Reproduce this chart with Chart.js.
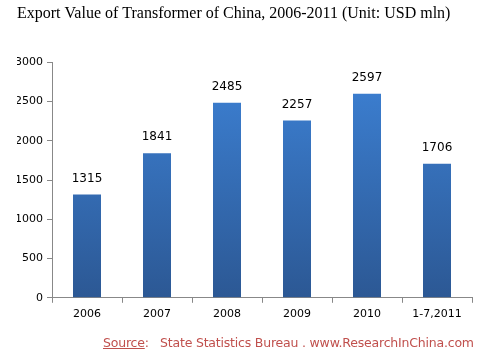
<!DOCTYPE html>
<html>
<head>
<meta charset="utf-8">
<script src="https://cdn.jsdelivr.net/npm/chart.js@4"></script>
<style>
  html, body { margin: 0; padding: 0; background: #fff; }
  #wrap { position: relative; width: 486px; height: 361px; }
  #source {
    position: absolute; left: 103px; top: 335px;
    font-family: "DejaVu Sans", sans-serif; font-size: 12.5px; color: #c0504d;
    white-space: nowrap; letter-spacing: -0.2px;
  }
  #source u { text-decoration-thickness: 1px; }
</style>
</head>
<body>
<div id="wrap">
  <canvas id="chart" width="486" height="361"></canvas>
  <div id="source"><u>Source</u>:&nbsp;&nbsp; State Statistics Bureau . www.ResearchInChina.com</div>
</div>
<script>
const categories = ['2006', '2007', '2008', '2009', '2010', '1-7,2011'];
const exportValues = [1315, 1841, 2485, 2257, 2597, 1706];
const yTicks = [0, 500, 1000, 1500, 2000, 2500, 3000];

// value labels above each bar
const valueLabels = {
    id: 'valueLabels',
    afterDatasetsDraw(chart) {
        const ctx = chart.ctx;
        const meta = chart.getDatasetMeta(0);
        ctx.save();
        ctx.font = '12px "DejaVu Sans", sans-serif';
        ctx.fillStyle = '#000';
        ctx.textAlign = 'center';
        ctx.textBaseline = 'bottom';
        meta.data.forEach((bar, i) => {
            ctx.fillText(exportValues[i], bar.x, bar.y - 10);
        });
        ctx.restore();
    }
};

const ctx = document.getElementById('chart').getContext('2d');
new Chart(ctx, {
    type: 'bar',
    data: {
        labels: categories,
        datasets: [{
            label: 'Export Value',
            data: exportValues,
            backgroundColor: function (context) {
                const area = context.chart.chartArea;
                if (!area) return '#3a78c4';
                const g = context.chart.ctx.createLinearGradient(0, area.top, 0, area.bottom);
                g.addColorStop(0, '#3d82d6');
                g.addColorStop(1, '#2c5894');
                return g;
            },
            borderWidth: 0,
            categoryPercentage: 1,
            barPercentage: 0.4
        }]
    },
    options: {
        responsive: false,
        animation: false,
        layout: { padding: { left: 17, right: 14, top: 0, bottom: 35 } },
        plugins: {
            legend: { display: false },
            tooltip: { enabled: false },
            title: {
                display: true,
                text: 'Export Value of Transformer of China, 2006-2011 (Unit: USD mln)',
                align: 'start',
                color: '#000',
                font: { family: '"Liberation Serif", "DejaVu Serif", serif', size: 16, weight: 'normal' },
                padding: { top: 4, bottom: 39 }
            }
        },
        scales: {
            x: {
                grid: {
                    offset: true,
                    drawOnChartArea: false,
                    tickLength: 5,
                    color: '#888'
                },
                border: { color: '#888' },
                ticks: {
                    color: '#000',
                    font: { family: '"DejaVu Sans", sans-serif', size: 11 },
                    padding: 5,
                    maxRotation: 0
                }
            },
            y: {
                min: 0,
                max: 3000,
                afterBuildTicks: axis => { axis.ticks = yTicks.map(v => ({ value: v })); },
                afterFit: axis => { axis.width = 35; },
                grid: {
                    drawOnChartArea: false,
                    tickLength: 5,
                    color: '#888'
                },
                border: { color: '#888' },
                ticks: {
                    color: '#000',
                    font: { family: '"DejaVu Sans", sans-serif', size: 11 },
                    padding: 4,
                    callback: v => String(v)
                }
            }
        }
    },
    plugins: [valueLabels]
});
</script>
</body>
</html>
